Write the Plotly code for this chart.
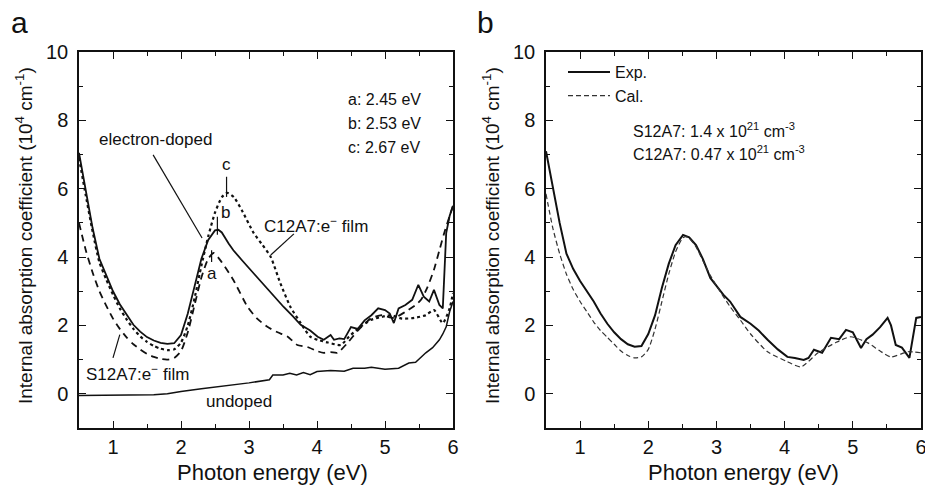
import plotly.graph_objects as go

# ---------------- Panel a data ----------------
doped_x = [0.5, 0.6, 0.7, 0.8, 0.9, 1.0, 1.1, 1.2, 1.3, 1.4, 1.5, 1.6, 1.7, 1.8, 1.9, 2.0, 2.1, 2.2, 2.3, 2.4, 2.5, 2.55, 2.6, 2.7, 2.77, 2.9, 3.02, 3.15, 3.27, 3.4, 3.51, 3.64, 3.76, 3.9, 4.01, 4.1, 4.2, 4.25, 4.33, 4.4, 4.5, 4.6, 4.7, 4.8, 4.9, 5.0, 5.07, 5.13, 5.2, 5.3, 5.4, 5.49, 5.57, 5.65, 5.72, 5.8, 5.85, 5.9, 5.95, 6.0]
doped_y = [7.05, 5.95, 4.85, 3.95, 3.45, 3.0, 2.62, 2.3, 2.02, 1.82, 1.66, 1.56, 1.49, 1.46, 1.48, 1.72, 2.35, 3.15, 3.95, 4.5, 4.78, 4.8, 4.72, 4.4, 4.2, 3.9, 3.63, 3.35, 3.1, 2.8, 2.54, 2.28, 2.02, 1.85, 1.67, 1.58, 1.72, 1.58, 1.62, 1.6, 1.95, 1.9, 2.15, 2.3, 2.5, 2.45, 2.35, 2.07, 2.5, 2.6, 2.75, 3.19, 2.84, 2.7, 3.04, 2.6, 2.5, 4.7, 5.2, 5.5]

c12a7_x = [0.5, 0.6, 0.7, 0.8, 0.9, 1.0, 1.1, 1.2, 1.3, 1.4, 1.5, 1.6, 1.7, 1.8, 1.9, 2.0, 2.1, 2.2, 2.3, 2.4, 2.5, 2.6, 2.68, 2.78, 2.9, 3.07, 3.2, 3.32, 3.46, 3.61, 3.76, 3.9, 4.01, 4.16, 4.35, 4.47, 4.6, 4.79, 4.95, 5.09, 5.25, 5.43, 5.6, 5.72, 5.85, 5.95, 6.0]
c12a7_y = [6.9, 5.8, 4.75, 3.85, 3.35, 2.9, 2.5, 2.18, 1.9, 1.68, 1.52, 1.4, 1.32, 1.28, 1.3, 1.5, 2.0, 2.8, 3.75, 4.6, 5.3, 5.75, 5.88, 5.75, 5.35, 4.7, 4.35, 4.0, 3.24, 2.54, 2.07, 1.67, 1.58, 1.5, 1.43, 1.67, 1.9, 2.16, 2.25, 2.3, 2.2, 2.22, 2.3, 2.45, 2.07, 2.5, 2.95]

s12a7_x = [0.5, 0.6, 0.7, 0.8, 0.9, 1.0, 1.1, 1.2, 1.3, 1.4, 1.5, 1.6, 1.7, 1.8, 1.9, 2.0, 2.1, 2.2, 2.3, 2.4, 2.48, 2.6, 2.77, 2.98, 3.12, 3.27, 3.42, 3.57, 3.71, 3.86, 4.0, 4.1, 4.2, 4.3, 4.45, 4.6, 4.79, 4.95, 5.13, 5.3, 5.45, 5.53, 5.62, 5.72, 5.8, 5.87, 5.95, 6.0]
s12a7_y = [5.0, 4.2, 3.55, 3.0, 2.58, 2.2, 1.9, 1.65, 1.45, 1.3, 1.17, 1.08, 1.02, 1.0, 1.05, 1.25, 1.8, 2.6, 3.4, 3.95, 4.12, 3.85, 3.33, 2.54, 2.2, 1.96, 1.8, 1.67, 1.43, 1.37, 1.25, 1.2, 1.22, 1.2, 1.49, 1.85, 2.2, 2.3, 2.22, 2.4, 2.6, 2.75, 3.1, 3.63, 4.2, 4.7, 5.2, 5.5]

undoped_x = [0.5, 0.8, 1.0, 1.3, 1.6, 1.8, 2.0, 2.3, 2.6, 3.0, 3.3, 3.35, 3.5, 3.6, 3.7, 3.8, 3.9, 4.0, 4.2, 4.4, 4.53, 4.7, 4.8, 5.0, 5.2, 5.35, 5.45, 5.6, 5.7, 5.8, 5.85, 5.9, 5.95, 6.0]
undoped_y = [-0.05, -0.05, -0.05, -0.05, -0.03, 0.0, 0.07, 0.15, 0.22, 0.32, 0.41, 0.55, 0.55, 0.6, 0.55, 0.62, 0.56, 0.65, 0.68, 0.66, 0.75, 0.75, 0.78, 0.72, 0.75, 0.9, 0.92, 1.2, 1.35, 1.58, 1.75, 1.96, 2.4, 2.7]

# ---------------- Panel b data ----------------
exp_x = [0.5, 0.6, 0.7, 0.8, 0.9, 1.0, 1.1, 1.2, 1.3, 1.4, 1.5, 1.6, 1.7, 1.8, 1.9, 2.0, 2.1, 2.2, 2.3, 2.4, 2.51, 2.6, 2.7, 2.8, 2.91, 3.0, 3.1, 3.2, 3.35, 3.5, 3.62, 3.75, 3.9, 4.04, 4.15, 4.28, 4.35, 4.43, 4.55, 4.68, 4.8, 4.9, 5.0, 5.12, 5.2, 5.29, 5.4, 5.51, 5.56, 5.63, 5.72, 5.83, 5.88, 5.93, 6.0]
exp_y = [7.1, 6.0, 5.0, 4.1, 3.65, 3.3, 3.0, 2.7, 2.35, 2.05, 1.8, 1.6, 1.45, 1.38, 1.4, 1.75, 2.3, 3.1, 3.8, 4.35, 4.65, 4.58, 4.35, 3.95, 3.39, 3.15, 2.9, 2.7, 2.25, 2.05, 1.85, 1.58, 1.3, 1.08, 1.05, 0.99, 1.05, 1.29, 1.2, 1.64, 1.6, 1.87, 1.8, 1.34, 1.6, 1.73, 1.95, 2.22, 2.0, 1.43, 1.35, 1.05, 1.7, 2.22, 2.25]

cal_x = [0.5, 0.6, 0.7, 0.8, 0.9, 1.0, 1.1, 1.2, 1.3, 1.4, 1.5, 1.6, 1.7, 1.8, 1.9, 2.0, 2.1, 2.2, 2.3, 2.4, 2.5, 2.55, 2.6, 2.7, 2.8, 2.9, 3.01, 3.2, 3.35, 3.5, 3.75, 4.04, 4.24, 4.49, 4.75, 4.97, 5.22, 5.4, 5.56, 5.81, 6.0]
cal_y = [5.85, 4.85, 4.1, 3.5, 3.05, 2.7, 2.4, 2.1, 1.85, 1.65, 1.45, 1.25, 1.12, 1.05, 1.08, 1.3, 1.9, 2.7, 3.5, 4.15, 4.55, 4.6, 4.55, 4.3, 3.9, 3.5, 3.13, 2.55, 2.16, 1.75, 1.23, 0.94, 0.79, 1.2, 1.5, 1.67, 1.49, 1.25, 1.08, 1.23, 1.2]

x_ticks = [1, 2, 3, 4, 5, 6]
y_ticks = [0, 2, 4, 6, 8, 10]

FONT = "Liberation Sans, Arial, sans-serif"
BLACK = "#111111"

fig = go.Figure()
fig.add_trace(go.Scatter(x=undoped_x, y=undoped_y, mode="lines", line=dict(color=BLACK, width=1.5),
                         showlegend=False, xaxis="x", yaxis="y"))
fig.add_trace(go.Scatter(x=s12a7_x, y=s12a7_y, mode="lines", line=dict(color=BLACK, width=1.8, dash="7px,5px", shape="spline", smoothing=0.6),
                         showlegend=False, xaxis="x", yaxis="y"))
fig.add_trace(go.Scatter(x=c12a7_x, y=c12a7_y, mode="lines", line=dict(color=BLACK, width=2.2, dash="dot", shape="spline", smoothing=0.6),
                         showlegend=False, xaxis="x", yaxis="y"))
fig.add_trace(go.Scatter(x=doped_x, y=doped_y, mode="lines", line=dict(color=BLACK, width=1.8),
                         showlegend=False, xaxis="x", yaxis="y"))

fig.add_trace(go.Scatter(x=exp_x, y=exp_y, mode="lines", name="Exp.", line=dict(color=BLACK, width=2),
                         xaxis="x2", yaxis="y2"))
fig.add_trace(go.Scatter(x=cal_x, y=cal_y, mode="lines", name="Cal.", line=dict(color="#333333", width=1.2, dash="5px,3px", shape="spline", smoothing=0.6),
                         xaxis="x2", yaxis="y2"))

ydom = [1 - 428 / 489, 1 - 52 / 489]

def xaxis(domain, anchor):
    return dict(domain=domain, anchor=anchor, range=[0.5, 6], tickvals=x_ticks, ticks="inside", ticklen=7,
                tickwidth=1.3, tickcolor=BLACK, showline=True, linecolor=BLACK, linewidth=1.5, mirror="ticks",
                showgrid=False, zeroline=False, tickfont=dict(family=FONT, size=20, color=BLACK),
                minor=dict(tickvals=[0.5, 1.5, 2.5, 3.5, 4.5, 5.5], ticks="inside", ticklen=4, tickcolor=BLACK, tickwidth=1.3),
                ticklabelstandoff=0, automargin=False, ticklabeloverflow="allow")

def yaxis(anchor):
    return dict(domain=ydom, anchor=anchor, range=[-1, 10], tickvals=y_ticks, ticks="inside", ticklen=7,
                tickwidth=1.3, tickcolor=BLACK, showline=True, linecolor=BLACK, linewidth=1.5, mirror="ticks",
                showgrid=False, zeroline=False, tickfont=dict(family=FONT, size=20, color=BLACK),
                minor=dict(tickvals=[-1, 1, 3, 5, 7, 9], ticks="inside", ticklen=4, tickcolor=BLACK, tickwidth=1.3),
                ticklabelstandoff=5, automargin=False)

ann = []
def txt(text, x, y, xref="x", yref="y", size=17, xanchor="center", yanchor="middle", angle=0):
    ann.append(dict(text=text, x=x, y=y, xref=xref, yref=yref, showarrow=False, xanchor=xanchor,
                    yanchor=yanchor, textangle=angle, font=dict(family=FONT, size=size, color=BLACK)))

# panel labels
txt("a", 19 / 925, 1 - 22 / 489, "paper", "paper", size=30)
txt("b", 485 / 925, 1 - 22 / 489, "paper", "paper", size=30)
# axis titles
txt("Photon energy (eV)", 272 / 925, 1 - 472 / 489, "paper", "paper", size=22)
txt("Photon energy (eV)", 743 / 925, 1 - 472 / 489, "paper", "paper", size=22)
ytitle = "Internal absorption coefficient (10<sup>4</sup> cm<sup>-1</sup>)"
txt(ytitle, 24 / 925, 1 - 236 / 489, "paper", "paper", size=19, angle=-90)
txt(ytitle, 491 / 925, 1 - 236 / 489, "paper", "paper", size=19, angle=-90)

# panel a labels
txt("a: 2.45 eV", 4.42, 8.6, xanchor="left", size=16)
txt("b: 2.53 eV", 4.42, 7.9, xanchor="left", size=16)
txt("c: 2.67 eV", 4.42, 7.2, xanchor="left", size=16)
txt("electron-doped", 1.62, 7.43)
txt("C12A7:e<sup>−</sup> film", 3.98, 4.94)
txt("S12A7:e<sup>−</sup> film", 1.36, 0.61)
txt("undoped", 2.85, -0.23)
txt("c", 2.67, 6.72)
txt("b", 2.66, 5.3)
txt("a", 2.46, 3.52)

# panel b text
txt("S12A7: 1.4 x 10<sup>21</sup> cm<sup>-3</sup>", 1.74, 7.72, "x2", "y2", size=16, xanchor="left")
txt("C12A7: 0.47 x 10<sup>21</sup> cm<sup>-3</sup>", 1.74, 7.05, "x2", "y2", size=16, xanchor="left")

shapes = []
def seg(x0, y0, x1, y1, w=1.2):
    shapes.append(dict(type="line", xref="x", yref="y", x0=x0, y0=y0, x1=x1, y1=y1,
                       line=dict(color=BLACK, width=w)))

seg(1.59, 6.99, 2.31, 4.56)
seg(3.66, 4.68, 3.32, 4.06)
seg(1.10, 1.73, 1.00, 1.05)
seg(2.67, 6.35, 2.67, 5.76)
seg(2.535, 5.18, 2.535, 4.65)
seg(2.45, 4.2, 2.45, 3.86)

fig.update_layout(
    width=925, height=489, margin=dict(l=0, r=0, t=0, b=0, autoexpand=False),
    paper_bgcolor="white", plot_bgcolor="white",
    xaxis=xaxis([79 / 925, 453 / 925], "y"),
    yaxis=yaxis("x"),
    xaxis2=xaxis([546 / 925, 921 / 925], "y2"),
    yaxis2=yaxis("x2"),
    annotations=ann, shapes=shapes,
    legend=dict(x=563 / 925, y=1 - 55 / 489, xanchor="left", yanchor="top", bgcolor="rgba(0,0,0,0)",
                font=dict(family=FONT, size=16, color=BLACK), tracegroupgap=0, itemwidth=42),
    font=dict(family=FONT, color=BLACK),
)

fig.write_html("out.html", config={"displayModeBar": False},
               post_script="document.body.style.margin='0';document.body.style.overflow='hidden';")
